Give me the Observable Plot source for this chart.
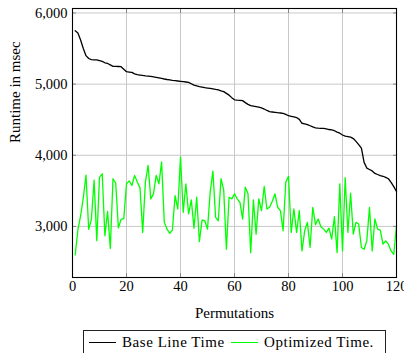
<!DOCTYPE html>
<html><head><meta charset="utf-8">
<script src="https://cdn.jsdelivr.net/npm/d3@7"></script>
<script src="https://cdn.jsdelivr.net/npm/@observablehq/plot@0.6"></script>
<style>
html,body{margin:0;padding:0;background:#fff;overflow:hidden;}
#chart svg{display:block;overflow:visible;}
#legend{position:absolute;left:83px;top:330px;width:301px;height:30px;border:1px solid #222;
  font-family:"Liberation Serif",serif;font-size:15px;letter-spacing:0.55px;color:#000;}
#legend .item{position:absolute;top:3px;display:flex;align-items:center;white-space:nowrap;}
#legend .sw{display:inline-block;width:27px;height:0;border-top:1.3px solid;margin-right:6px;}
</style></head><body>
<div id="chart"></div>
<div id="legend"></div>
<script>
const seriesNames = ["Base Line Time", "Optimized Time."];
const seriesColors = ["#000000", "#00ff00"];
const baseLine = [
  5750,5720,5620,5500,5400,5360,5345,5340,5340,5330,
  5320,5300,5290,5270,5250,5250,5248,5245,5210,5175,
  5170,5165,5145,5134,5128,5122,5117,5113,5108,5102,
  5096,5088,5080,5072,5065,5059,5052,5048,5044,5040,
  5035,5030,5025,5005,4985,4975,4965,4958,4950,4945,
  4940,4933,4925,4918,4905,4895,4870,4845,4810,4780,
  4775,4772,4768,4740,4715,4697,4690,4683,4676,4665,
  4650,4630,4613,4608,4603,4598,4594,4589,4575,4556,
  4548,4540,4530,4505,4450,4442,4432,4415,4398,4385,
  4381,4378,4377,4370,4362,4357,4345,4325,4310,4285,
  4270,4263,4255,4235,4195,4150,4100,3900,3820,3800,
  3780,3745,3730,3715,3705,3690,3670,3620,3560,3490
];
const optimized = [
  2600,2950,3150,3400,3720,2960,3100,3650,2800,3690,
  3740,2870,3210,2690,3670,3610,2980,3100,3110,3600,
  3640,3575,3717,3623,3542,2915,3623,3858,3387,3458,
  3717,3599,3906,3057,2962,2901,2948,3434,3245,3976,
  3198,3599,3175,3373,2976,3410,2788,3090,3080,2962,
  3481,3778,3127,3080,3670,3514,2679,3410,3387,3458,
  3387,3340,3104,3552,3458,2632,3373,2892,3387,3222,
  3561,3245,3269,3354,3458,3269,3222,2939,3623,3703,
  2915,3245,2915,3222,2656,2939,3057,2703,3269,3024,
  3104,2995,2962,2915,2976,2821,3137,2632,3599,2656,
  3684,2915,3467,2892,3057,3033,2703,2679,2797,3269,
  2656,3104,2962,2948,2750,2797,2750,2656,2608,3010
];
const xTicks = [0, 20, 40, 60, 80, 100, 120];
const yTicks = [3000, 4000, 5000, 6000];
const xLabel = "Permutations";
const yLabel = "Runtime in msec";

const rows = [baseLine, optimized].flatMap((vals, s) =>
  vals.map((v, i) => ({x: i + 1, y: v, series: seriesNames[s]})));

const font = '"Liberation Serif", serif';
const chart = Plot.plot({
  width: 404, height: 330,
  marginLeft: 72, marginRight: 8, marginTop: 8, marginBottom: 53,
  style: {fontFamily: font, fontSize: "14.5px", color: "#000", background: "#fff"},
  x: {domain: [0, 120]},
  y: {domain: [2282, 6063]},
  color: {domain: seriesNames, range: seriesColors},
  marks: [
    Plot.gridX(xTicks, {stroke: "#c8c8c8", strokeOpacity: 1, strokeWidth: 1}),
    Plot.gridY(yTicks, {stroke: "#c8c8c8", strokeOpacity: 1, strokeWidth: 1}),
    Plot.axisX(xTicks, {anchor: "bottom", tickSize: -4, tickPadding: 7, stroke: "#888", fill: "#000", label: null, tickFormat: d => String(d)}),
    Plot.axisX(xTicks, {anchor: "top", tickSize: -4, stroke: "#888", label: null, tickFormat: () => ""}),
    Plot.axisY(yTicks, {anchor: "left", tickSize: -4, tickPadding: 9, stroke: "#888", fill: "#000", label: null, tickFormat: d3.format(",")}),
    Plot.axisY(yTicks, {anchor: "right", tickSize: -4, stroke: "#888", label: null, tickFormat: () => ""}),
    Plot.line(rows, {x: "x", y: "y", z: "series", stroke: "series", strokeWidth: 1.3}),
    Plot.frame({stroke: "#000", strokeWidth: 1.1}),
    Plot.text([xLabel], {frameAnchor: "bottom", dy: 36, lineAnchor: "middle", fontSize: 15, fill: "#000", style: "letter-spacing:0.9px"}),
    Plot.text([yLabel], {frameAnchor: "left", dx: -57, rotate: -90, lineAnchor: "middle", fontSize: 15, fill: "#000"})
  ]
});
document.getElementById("chart").appendChild(chart);

const legend = document.getElementById("legend");
const lefts = [5, 147];
seriesNames.forEach((name, i) => {
  const item = document.createElement("div");
  item.className = "item";
  item.style.left = lefts[i] + "px";
  const sw = document.createElement("span");
  sw.className = "sw";
  sw.style.borderTopColor = seriesColors[i];
  item.appendChild(sw);
  item.appendChild(document.createTextNode(name));
  legend.appendChild(item);
});
</script>
</body></html>
